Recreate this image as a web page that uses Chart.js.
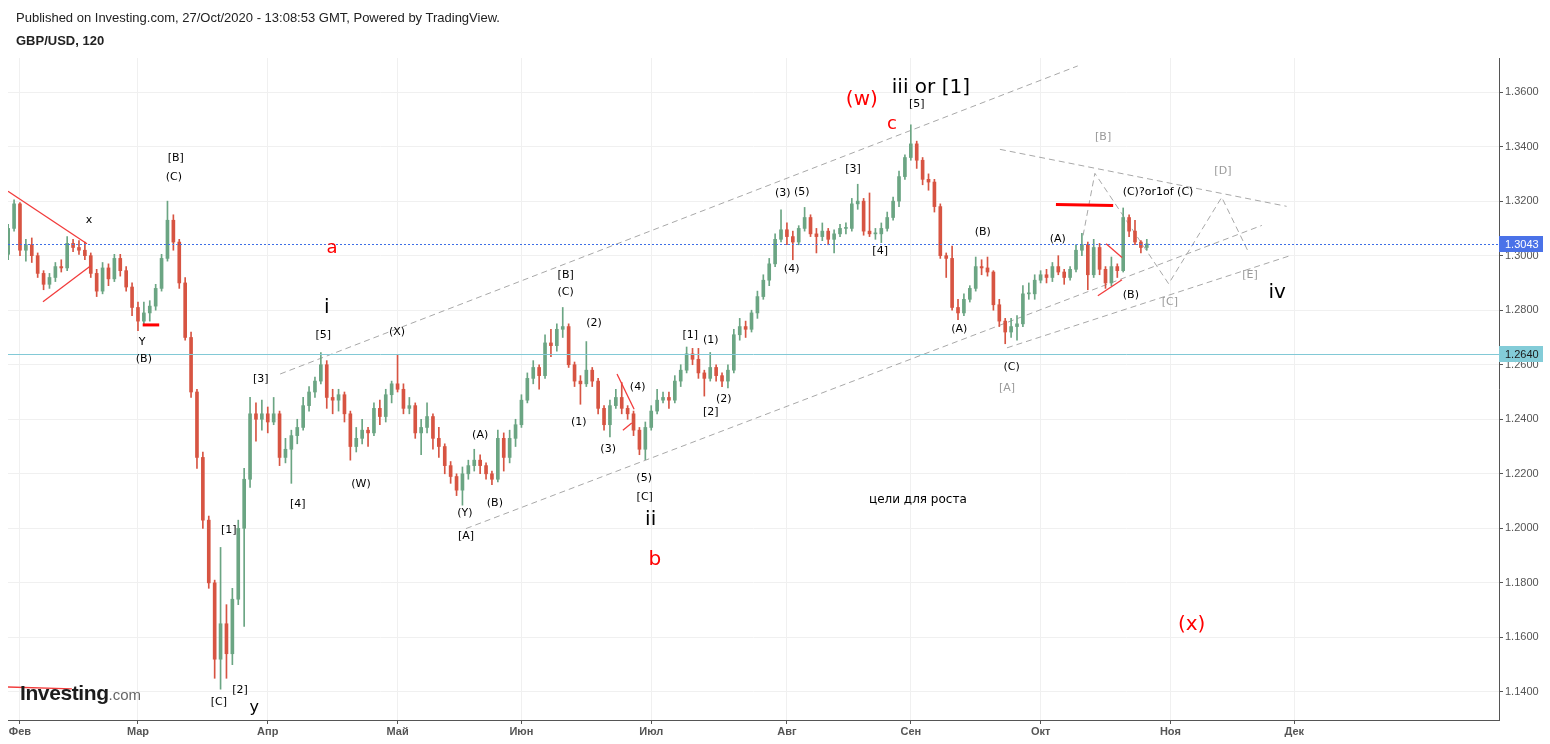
<!DOCTYPE html>
<html>
<head>
<meta charset="utf-8">
<script src="https://cdn.jsdelivr.net/npm/chart.js@4.4.1/dist/chart.umd.min.js"></script>
<style>
  html, body { margin: 0; padding: 0; background: #fff; }
  #wrap { position: relative; width: 1550px; height: 744px; overflow: hidden; background: #fff; }
  #c { position: absolute; left: 0; top: 0; }
  .hdr { position: absolute; left: 16px; font-family: "Liberation Sans", Arial, sans-serif; font-size: 13px; line-height: 15px; color: #222; white-space: nowrap; }
  #logo { position: absolute; left: 20px; top: 682px; font-family: "Liberation Sans", Arial, sans-serif; line-height: 22px; white-space: nowrap; }
  #logo b { font-size: 21px; color: #1c1c1c; letter-spacing: -0.4px; }
  #logo span { font-size: 15px; color: #666; }
</style>
</head>
<body>
<div id="wrap">
  <canvas id="c" width="1550" height="744"></canvas>
  <div class="hdr" style="top:10px">Published on Investing.com, 27/Oct/2020 - 13:08:53 GMT, Powered by TradingView.</div>
  <div class="hdr" style="top:33px;font-weight:bold">GBP/USD, 120</div>
  <div id="logo"><b>Investing</b><span>.com</span></div>
</div>
<script>
// ---------- DATA ----------
// trading-day index of first bar (30 Jan 2020); 3 Feb 2020 = 0
const firstBar = -2;

const monthIdx    = [0, 20, 42, 64, 85, 107, 130, 151, 173, 195, 216];
const monthLabels = ['Фев', 'Мар', 'Апр', 'Май', 'Июн', 'Июл', 'Авг', 'Сен', 'Окт', 'Ноя', 'Дек'];
const yTicks = [1.14, 1.16, 1.18, 1.20, 1.22, 1.24, 1.26, 1.28, 1.30, 1.32, 1.34, 1.36];

const openP = [
  1.3005,1.3100,1.3190,1.3020,1.3040,1.3000,1.2935,1.2895,1.2920,1.2960,
  1.2955,1.3045,1.3030,1.3020,1.3000,1.2935,1.2870,1.2955,1.2915,1.2990,
  1.2945,1.2885,1.2810,1.2760,1.2790,1.2815,1.2880,1.2990,1.3130,1.3050,
  1.2900,1.2700,1.2500,1.2260,1.2030,1.1800,1.1520,1.1650,1.1540,1.1740,
  1.2000,1.2180,1.2420,1.2400,1.2420,1.2390,1.2420,1.2260,1.2290,1.2340,
  1.2370,1.2450,1.2500,1.2540,1.2600,1.2480,1.2470,1.2490,1.2420,1.2300,
  1.2330,1.2360,1.2350,1.2440,1.2410,1.2490,1.2530,1.2510,1.2440,1.2450,
  1.2350,1.2370,1.2410,1.2330,1.2300,1.2230,1.2190,1.2140,1.2200,1.2230,
  1.2250,1.2230,1.2200,1.2180,1.2330,1.2260,1.2330,1.2380,1.2470,1.2550,
  1.2590,1.2560,1.2680,1.2670,1.2730,1.2740,1.2600,1.2540,1.2530,1.2580,
  1.2540,1.2440,1.2380,1.2450,1.2480,1.2440,1.2420,1.2360,1.2290,1.2370,
  1.2430,1.2470,1.2480,1.2470,1.2540,1.2580,1.2640,1.2620,1.2570,1.2550,
  1.2590,1.2560,1.2540,1.2580,1.2710,1.2740,1.2730,1.2790,1.2850,1.2910,
  1.2970,1.3060,1.3095,1.3070,1.3050,1.3100,1.3140,1.3080,1.3070,1.3090,
  1.3060,1.3080,1.3100,1.3100,1.3190,1.3200,1.3090,1.3080,1.3080,1.3100,
  1.3140,1.3200,1.3290,1.3360,1.3410,1.3350,1.3280,1.3270,1.3180,1.3000,
  1.2990,1.2810,1.2790,1.2840,1.2880,1.2960,1.2955,1.2940,1.2820,1.2760,
  1.2720,1.2740,1.2750,1.2860,1.2860,1.2910,1.2930,1.2920,1.2960,1.2940,
  1.2920,1.2950,1.3020,1.3040,1.2930,1.3030,1.2950,1.2900,1.2960,1.2945,
  1.3140,1.3090,1.3050,1.3030
];
const highP = [
  1.3115,1.3205,1.3195,1.3060,1.3065,1.3010,1.2945,1.2935,1.2975,1.2985,
  1.3070,1.3060,1.3055,1.3050,1.3010,1.2950,1.2975,1.2970,1.3005,1.3005,
  1.2960,1.2900,1.2830,1.2830,1.2835,1.2895,1.3005,1.3200,1.3150,1.3060,
  1.2920,1.2720,1.2510,1.2280,1.2045,1.1810,1.1930,1.1720,1.1780,1.2030,
  1.2220,1.2480,1.2460,1.2470,1.2445,1.2480,1.2430,1.2330,1.2360,1.2400,
  1.2480,1.2520,1.2555,1.2645,1.2615,1.2510,1.2510,1.2500,1.2430,1.2370,
  1.2400,1.2370,1.2460,1.2470,1.2510,1.2540,1.2635,1.2530,1.2480,1.2460,
  1.2400,1.2460,1.2420,1.2370,1.2310,1.2245,1.2200,1.2225,1.2250,1.2290,
  1.2270,1.2240,1.2210,1.2360,1.2350,1.2360,1.2400,1.2490,1.2570,1.2615,
  1.2600,1.2710,1.2730,1.2750,1.2810,1.2750,1.2610,1.2560,1.2685,1.2590,
  1.2550,1.2450,1.2470,1.2510,1.2535,1.2450,1.2430,1.2370,1.2390,1.2450,
  1.2510,1.2500,1.2500,1.2560,1.2600,1.2665,1.2660,1.2660,1.2580,1.2645,
  1.2600,1.2570,1.2600,1.2730,1.2770,1.2760,1.2800,1.2870,1.2930,1.2990,
  1.3080,1.3168,1.3120,1.3090,1.3110,1.3177,1.3150,1.3100,1.3120,1.3100,
  1.3095,1.3115,1.3120,1.3210,1.3262,1.3210,1.3230,1.3100,1.3120,1.3160,
  1.3215,1.3310,1.3370,1.3480,1.3420,1.3360,1.3300,1.3280,1.3190,1.3010,
  1.3035,1.2840,1.2860,1.2890,1.2995,1.2985,1.2995,1.2945,1.2840,1.2770,
  1.2770,1.2780,1.2890,1.2900,1.2930,1.2945,1.2950,1.2975,1.3000,1.2950,
  1.2960,1.3040,1.3082,1.3050,1.3060,1.3045,1.2960,1.2995,1.2970,1.3175,
  1.3150,1.3130,1.3055,1.3060
];
const lowP = [
  1.2985,1.3090,1.3000,1.2980,1.2975,1.2920,1.2875,1.2880,1.2905,1.2940,
  1.2945,1.3015,1.3005,1.2985,1.2920,1.2850,1.2860,1.2890,1.2905,1.2925,
  1.2870,1.2780,1.2725,1.2745,1.2760,1.2800,1.2870,1.2980,1.3020,1.2880,
  1.2690,1.2480,1.2220,1.2000,1.1780,1.1450,1.1410,1.1450,1.1500,1.1720,
  1.1640,1.2150,1.2320,1.2360,1.2350,1.2380,1.2230,1.2240,1.2165,1.2310,
  1.2360,1.2430,1.2480,1.2530,1.2440,1.2420,1.2430,1.2390,1.2250,1.2280,
  1.2310,1.2300,1.2340,1.2380,1.2390,1.2460,1.2500,1.2420,1.2420,1.2330,
  1.2270,1.2350,1.2290,1.2260,1.2200,1.2165,1.2120,1.2085,1.2180,1.2210,
  1.2200,1.2180,1.2160,1.2170,1.2210,1.2240,1.2300,1.2370,1.2460,1.2530,
  1.2510,1.2550,1.2630,1.2650,1.2700,1.2590,1.2520,1.2455,1.2520,1.2520,
  1.2420,1.2360,1.2335,1.2440,1.2420,1.2400,1.2340,1.2270,1.2252,1.2360,
  1.2420,1.2460,1.2440,1.2460,1.2520,1.2570,1.2600,1.2550,1.2485,1.2540,
  1.2540,1.2520,1.2515,1.2570,1.2690,1.2700,1.2720,1.2770,1.2840,1.2890,
  1.2960,1.3050,1.3040,1.2985,1.3040,1.3090,1.3070,1.3010,1.3055,1.3040,
  1.3010,1.3070,1.3080,1.3090,1.3170,1.3075,1.3070,1.3060,1.3048,1.3090,
  1.3130,1.3180,1.3280,1.3350,1.3320,1.3260,1.3240,1.3160,1.2990,1.2920,
  1.2800,1.2765,1.2780,1.2830,1.2870,1.2930,1.2925,1.2800,1.2740,1.2677,
  1.2700,1.2690,1.2740,1.2840,1.2840,1.2900,1.2900,1.2905,1.2930,1.2895,
  1.2910,1.2940,1.3000,1.2875,1.2920,1.2930,1.2880,1.2890,1.2920,1.2940,
  1.3070,1.3040,1.3010,1.3020
];
const closeP = [
  1.3100,1.3190,1.3020,1.3040,1.3000,1.2935,1.2895,1.2920,1.2960,1.2955,
  1.3045,1.3030,1.3020,1.3000,1.2935,1.2870,1.2955,1.2915,1.2990,1.2945,
  1.2885,1.2810,1.2760,1.2790,1.2815,1.2880,1.2990,1.3130,1.3050,1.2900,
  1.2700,1.2500,1.2260,1.2030,1.1800,1.1520,1.1650,1.1540,1.1740,1.2000,
  1.2180,1.2420,1.2400,1.2420,1.2390,1.2420,1.2260,1.2290,1.2340,1.2370,
  1.2450,1.2500,1.2540,1.2600,1.2480,1.2470,1.2490,1.2420,1.2300,1.2330,
  1.2360,1.2350,1.2440,1.2410,1.2490,1.2530,1.2510,1.2440,1.2450,1.2350,
  1.2370,1.2410,1.2330,1.2300,1.2230,1.2190,1.2140,1.2200,1.2230,1.2250,
  1.2230,1.2200,1.2180,1.2330,1.2260,1.2330,1.2380,1.2470,1.2550,1.2590,
  1.2560,1.2680,1.2670,1.2730,1.2740,1.2600,1.2540,1.2530,1.2580,1.2540,
  1.2440,1.2380,1.2450,1.2480,1.2440,1.2420,1.2360,1.2290,1.2370,1.2430,
  1.2470,1.2480,1.2470,1.2540,1.2580,1.2640,1.2620,1.2570,1.2550,1.2590,
  1.2560,1.2540,1.2580,1.2710,1.2740,1.2730,1.2790,1.2850,1.2910,1.2970,
  1.3060,1.3095,1.3070,1.3050,1.3100,1.3140,1.3080,1.3070,1.3090,1.3060,
  1.3080,1.3100,1.3100,1.3190,1.3200,1.3090,1.3080,1.3080,1.3100,1.3140,
  1.3200,1.3290,1.3360,1.3410,1.3350,1.3280,1.3270,1.3180,1.3000,1.2990,
  1.2810,1.2790,1.2840,1.2880,1.2960,1.2955,1.2940,1.2820,1.2760,1.2720,
  1.2740,1.2750,1.2860,1.2860,1.2910,1.2930,1.2920,1.2960,1.2940,1.2920,
  1.2950,1.3020,1.3040,1.2930,1.3030,1.2950,1.2900,1.2960,1.2945,1.3140,
  1.3090,1.3050,1.3030,1.3043
];

// price levels shown on the axis
const levelValues = [1.3043, 1.2640];

// wave labels: text, trading-day index, price, style key
const waveLabels = [
  ['x', 11.7, 1.3129, 'sm'], ['[B]', 26.4, 1.3357, 'sm'], ['(C)', 26.1, 1.3287, 'sm'],
  ['Y', 20.7, 1.2684, 'sm'], ['(B)', 21.0, 1.2621, 'sm'],
  ['a', 52.9, 1.3026, 'redM'], ['i', 52.0, 1.2809, 'big'], ['[5]', 51.4, 1.2710, 'sm'],
  ['(X)', 63.9, 1.2721, 'sm'], ['[3]', 40.8, 1.2548, 'sm'], ['[4]', 47.1, 1.2088, 'sm'],
  ['(W)', 57.8, 1.2161, 'sm'], ['[1]', 35.4, 1.1992, 'sm'], ['[2]', 37.3, 1.1407, 'sm'],
  ['[C]', 33.7, 1.1363, 'sm'], ['y', 39.7, 1.1341, 'mid'],
  ['[B]', 92.5, 1.2930, 'sm'], ['(C)', 92.5, 1.2868, 'sm'], ['(2)', 97.3, 1.2754, 'sm'],
  ['(1)', 94.7, 1.2390, 'sm'], ['(3)', 99.7, 1.2290, 'sm'], ['(4)', 104.7, 1.2518, 'sm'],
  ['(5)', 105.8, 1.2184, 'sm'], ['[C]', 105.9, 1.2114, 'sm'], ['ii', 106.9, 1.2033, 'big'],
  ['b', 107.6, 1.1886, 'red'],
  ['(A)', 78.0, 1.2342, 'sm'], ['(B)', 80.5, 1.2092, 'sm'], ['(Y)', 75.4, 1.2055, 'sm'],
  ['[A]', 75.6, 1.1970, 'sm'],
  ['[1]', 113.6, 1.2710, 'sm'], ['(1)', 117.1, 1.2691, 'sm'], ['(2)', 119.3, 1.2474, 'sm'],
  ['[2]', 117.1, 1.2426, 'sm'],
  ['(3)', 129.3, 1.3228, 'sm'], ['(5)', 132.5, 1.3232, 'sm'], ['(4)', 130.8, 1.2952, 'sm'],
  ['[3]', 141.2, 1.3317, 'sm'], ['[4]', 145.8, 1.3015, 'sm'],
  ['(w)', 142.7, 1.3571, 'red'], ['c', 147.8, 1.3482, 'redM'],
  ['iii or [1]', 154.4, 1.3615, 'big'], ['[5]', 152.0, 1.3556, 'sm'],
  ['(A)', 159.2, 1.2732, 'sm'], ['(B)', 163.2, 1.3085, 'sm'], ['(C)', 168.1, 1.2592, 'sm'],
  ['[A]', 167.3, 1.2515, 'grey'],
  ['(A)', 175.9, 1.3059, 'sm'], ['(B)', 188.3, 1.2857, 'sm'], ['(C)?or1of (C)', 192.9, 1.3232, 'sm'],
  ['[B]', 183.6, 1.3434, 'grey'], ['[D]', 203.9, 1.3309, 'grey'], ['[C]', 194.9, 1.2831, 'grey'],
  ['[E]', 208.5, 1.2930, 'grey'], ['iv', 213.1, 1.2864, 'big'],
  ['цели для роста', 152.2, 1.2103, 'note'],
  ['(x)', 198.6, 1.1646, 'red']
];

// drawn trend lines in data coordinates: [day1, price1, day2, price2]
const guideLines = [
  [44.1, 1.2566, 179.3, 1.3696],
  [75.6, 1.1999, 210.5, 1.3111],
  [167.3, 1.2662, 215.3, 1.3000],
  [166.1, 1.3390, 214.7, 1.3181]
];
const projectedPath = [[180.2, 1.3074], [182.2, 1.3302], [194.7, 1.2897], [203.7, 1.3214], [208.1, 1.3019]];
const redLines = [
  [-2.03, 1.3236, 11.36, 1.3044, 'thin'],
  [3.9, 1.2831, 12.0, 1.2963, 'thin'],
  [20.8, 1.2746, 23.6, 1.2746, 'thick'],
  [101.2, 1.2566, 104.1, 1.2437, 'thin'],
  [102.2, 1.2360, 103.7, 1.2386, 'thin'],
  [175.6, 1.3188, 185.3, 1.3184, 'thick'],
  [184.1, 1.3044, 186.8, 1.2993, 'thin'],
  [182.7, 1.2853, 186.8, 1.2912, 'thin'],
  [-2.03, 1.1418, 8.8, 1.1411, 'thin']
];

// ---------- STYLES ----------
const GREEN = '#6ba583', RED = '#d75442';
const FONT = '"DejaVu Sans", Verdana, sans-serif';
const labelStyles = {
  sm:   { font: '11px ' + FONT, color: '#000' },
  grey: { font: '11px ' + FONT, color: '#9a9a9a' },
  big:  { font: '20px ' + FONT, color: '#000' },
  mid:  { font: '16px ' + FONT, color: '#000' },
  red:  { font: '20px ' + FONT, color: '#ff0000' },
  redM: { font: '18px ' + FONT, color: '#ff0000' },
  note: { font: '12px ' + FONT, color: '#000' }
};
const levelStyles = [
  { line: '#3d6ee6', dash: [2, 2], box: '#4a72e8', text: '#ffffff' },
  { line: '#82c9d6', dash: [], box: '#83ccd8', text: '#1a1a1a' }
];

const dayIdx = closeP.map((_, k) => firstBar + k);
const barColors = closeP.map((c, k) => (c >= openP[k] ? GREEN : RED));

const annot = {
  id: 'annot',
  beforeDatasetsDraw(chart) {
    const { ctx, chartArea: a, scales: { x, y } } = chart;
    ctx.save();
    ctx.beginPath(); ctx.rect(a.left, a.top, a.right - a.left, a.bottom - a.top); ctx.clip();
    ctx.strokeStyle = '#a8a8a8'; ctx.lineWidth = 1; ctx.setLineDash([6, 4]);
    guideLines.forEach(L => {
      ctx.beginPath();
      ctx.moveTo(x.getPixelForValue(L[0]), y.getPixelForValue(L[1]));
      ctx.lineTo(x.getPixelForValue(L[2]), y.getPixelForValue(L[3]));
      ctx.stroke();
    });
    ctx.beginPath();
    projectedPath.forEach((p, i) => {
      const px = x.getPixelForValue(p[0]), py = y.getPixelForValue(p[1]);
      if (i === 0) ctx.moveTo(px, py); else ctx.lineTo(px, py);
    });
    ctx.stroke();
    ctx.restore();
  },
  afterDatasetsDraw(chart) {
    const { ctx, chartArea: a, scales: { x, y } } = chart;
    ctx.save();
    ctx.beginPath(); ctx.rect(a.left, a.top, a.right - a.left, a.bottom - a.top); ctx.clip();
    levelValues.forEach((v, i) => {
      const st = levelStyles[i];
      const py = Math.round(y.getPixelForValue(v)) + 0.5;
      ctx.strokeStyle = st.line; ctx.lineWidth = 1; ctx.setLineDash(st.dash);
      ctx.beginPath(); ctx.moveTo(a.left, py); ctx.lineTo(a.right, py); ctx.stroke();
    });
    ctx.setLineDash([]);
    redLines.forEach(L => {
      ctx.strokeStyle = L[4] === 'thick' ? '#ff0000' : '#f23b3b';
      ctx.lineWidth = L[4] === 'thick' ? 3 : 1.3;
      ctx.beginPath();
      ctx.moveTo(x.getPixelForValue(L[0]), y.getPixelForValue(L[1]));
      ctx.lineTo(x.getPixelForValue(L[2]), y.getPixelForValue(L[3]));
      ctx.stroke();
    });
    ctx.restore();
    ctx.save();
    ctx.textAlign = 'center'; ctx.textBaseline = 'middle';
    waveLabels.forEach(l => {
      const st = labelStyles[l[3]];
      ctx.font = st.font; ctx.fillStyle = st.color;
      ctx.fillText(l[0], x.getPixelForValue(l[1]), y.getPixelForValue(l[2]));
    });
    ctx.restore();
  },
  afterDraw(chart) {
    const { ctx, chartArea: a, scales: { y } } = chart;
    ctx.save();
    ctx.font = '11px "Liberation Sans", Arial, sans-serif';
    ctx.textAlign = 'left'; ctx.textBaseline = 'middle';
    levelValues.forEach((v, i) => {
      const st = levelStyles[i];
      const py = Math.round(y.getPixelForValue(v));
      ctx.fillStyle = st.box;
      ctx.fillRect(a.right, py - 8, 44, 16);
      ctx.fillStyle = st.text;
      ctx.fillText(v.toFixed(4), a.right + 6, py + 0.5);
    });
    ctx.restore();
  }
};

new Chart(document.getElementById('c'), {
  type: 'bar',
  data: {
    datasets: [
      {
        label: 'body',
        data: dayIdx.map((d, k) => ({ x: d, y: [openP[k], closeP[k]] })),
        backgroundColor: barColors,
        barThickness: 3,
        minBarLength: 1,
        grouped: false,
        order: 1
      },
      {
        label: 'wick',
        data: dayIdx.map((d, k) => ({ x: d, y: [lowP[k], highP[k]] })),
        backgroundColor: barColors,
        barThickness: 1,
        grouped: false,
        order: 2
      }
    ]
  },
  options: {
    responsive: false,
    animation: false,
    devicePixelRatio: 1,
    events: [],
    layout: { padding: { top: 58, left: 8, right: 0, bottom: 0 } },
    plugins: { legend: { display: false }, tooltip: { enabled: false } },
    scales: {
      x: {
        type: 'linear',
        min: -2.03,
        max: 250.7,
        offset: false,
        grid: { color: '#f0f0f0', offset: false, tickColor: '#555', tickLength: 4 },
        border: { color: '#555', width: 1 },
        afterBuildTicks: ax => { ax.ticks = monthIdx.map(v => ({ value: v })); },
        afterFit: ax => { ax.height = 24; },
        ticks: {
          autoSkip: false, maxRotation: 0, padding: 1,
          color: '#555',
          font: { family: '"Liberation Sans", Arial, sans-serif', size: 11, weight: 'bold' },
          callback: (v, i) => monthLabels[i]
        }
      },
      y: {
        type: 'linear',
        position: 'right',
        min: 1.1297,
        max: 1.3725,
        beginAtZero: false,
        grid: { color: '#f0f0f0', tickColor: '#555', tickLength: 4 },
        border: { color: '#555', width: 1 },
        afterBuildTicks: ax => { ax.ticks = yTicks.map(v => ({ value: v })); },
        afterFit: ax => { ax.width = 51; },
        ticks: {
          padding: 2,
          color: '#555',
          font: { family: '"Liberation Sans", Arial, sans-serif', size: 11 },
          callback: v => v.toFixed(4)
        }
      }
    }
  },
  plugins: [annot]
});
</script>
</body>
</html>
